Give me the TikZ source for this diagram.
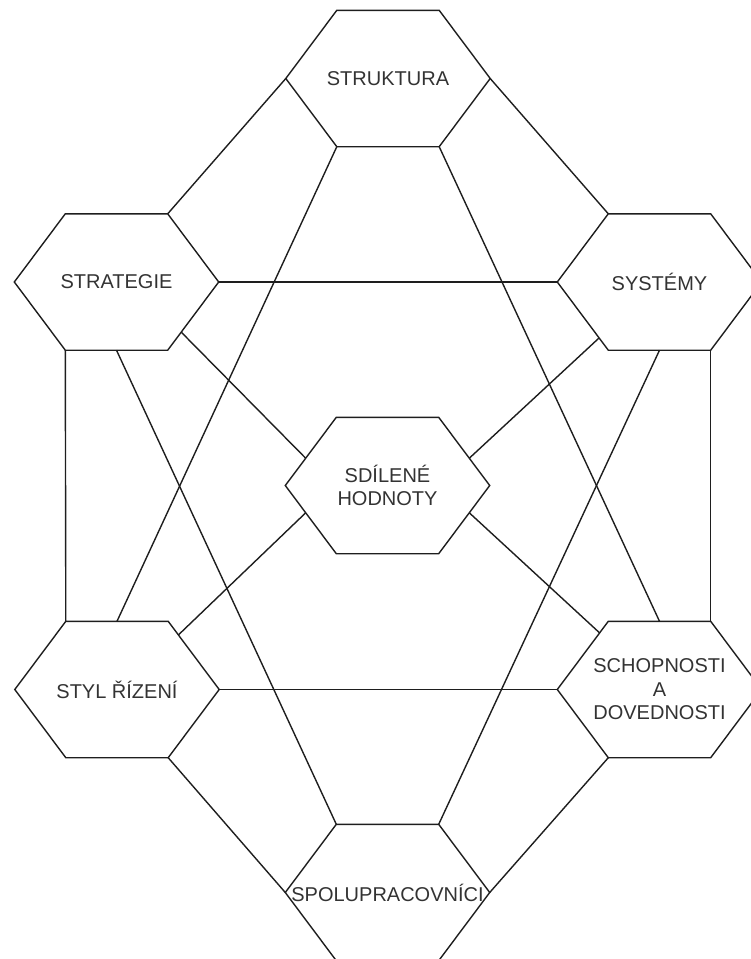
\documentclass[tikz,border=0pt]{standalone}
\usepackage{fontspec}
\setmainfont{Liberation Sans}
\usetikzlibrary{calc}
\definecolor{ink}{RGB}{30,30,30}
\definecolor{txt}{RGB}{51,51,51}
\begin{document}
\begin{tikzpicture}[x=1pt,y=-1pt,
  hexbox/.style={draw=none, minimum width=204pt, minimum height=136pt, inner sep=0pt,
    align=center, font=\fontsize{20}{23.5}\selectfont, text=txt},
  hexline/.style={draw=ink, line width=1.4pt, line join=miter},
  link/.style={draw=ink, line width=1.4pt}]
\useasboundingbox (0,0) rectangle (751,959);
\clip (0,0) rectangle (751,959);
\node[hexbox] (struktura)  at (388,78.5)   {STRUKTURA};
\node[hexbox] (strategie)  at (116.5,282)  {STRATEGIE};
\node[hexbox] (systemy)    at (659.5,282)  {SYSTÉMY};
\node[hexbox] (hodnoty)    at (387.5,485.5){SDÍLENÉ\\HODNOTY};
\node[hexbox] (styl)       at (117,689.5)  {STYL ŘÍZENÍ};
\node[hexbox] (schopnosti) at (659.5,689.5){SCHOPNOSTI\\A\\DOVEDNOSTI};
\node[hexbox] (spolu)      at (387.5,892.5){SPOLUPRACOVNÍCI};
\foreach \n in {struktura,strategie,systemy,hodnoty,styl,schopnosti,spolu} {
  \coordinate (\n-tl) at ($(\n.north west)+(51,0)$);
  \coordinate (\n-tr) at ($(\n.north east)+(-51,0)$);
  \coordinate (\n-bl) at ($(\n.south west)+(51,0)$);
  \coordinate (\n-br) at ($(\n.south east)+(-51,0)$);
  \draw[hexline] (\n-tl) -- (\n-tr) -- (\n.east) -- (\n-br) -- (\n-bl) -- (\n.west) -- cycle;
}
\draw[link] (strategie-tr) -- (struktura.west);
\draw[link] (struktura.east) -- (systemy-tl);
\draw[link] (strategie.east) -- (systemy.west);
\draw[link] (strategie-bl) -- (styl-tl);
\draw[link] (systemy-br) -- (schopnosti-tr);
\draw[link] (styl.east) -- (schopnosti.west);
\draw[link] (styl-br) -- (spolu.west);
\draw[link] (schopnosti-bl) -- (spolu.east);
\draw[link] (struktura-bl) -- (styl.north);
\draw[link] (struktura-br) -- (schopnosti.north);
\draw[link] (strategie.south) -- (spolu-tl);
\draw[link] (systemy.south) -- (spolu-tr);
\draw[link] ($(strategie.east)!0.735!(strategie-br)$) -- ($(hodnoty.west)!0.4!(hodnoty-tl)$);
\draw[link] ($(systemy.west)!0.82!(systemy-bl)$) -- ($(hodnoty.east)!0.4!(hodnoty-tr)$);
\draw[link] ($(hodnoty.west)!0.4!(hodnoty-bl)$) -- ($(styl.east)!0.8!(styl-tr)$);
\draw[link] ($(hodnoty.east)!0.4!(hodnoty-br)$) -- ($(schopnosti.west)!0.83!(schopnosti-tl)$);
\end{tikzpicture}
\end{document}
